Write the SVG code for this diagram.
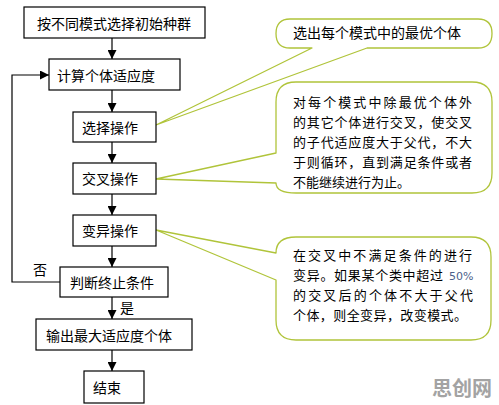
<svg xmlns="http://www.w3.org/2000/svg" width="499" height="405" viewBox="0 0 499 405">
<defs>
<marker id="arr" viewBox="0 0 10 10" refX="10" refY="5" markerWidth="9" markerHeight="9" markerUnits="userSpaceOnUse" orient="auto">
<path d="M0,0 L10,5 L0,10 z" fill="#000"/>
</marker>
</defs>
<style>
.box{fill:#fff;stroke:#000;stroke-width:1.2}
.t{font-family:"Noto Sans CJK SC","Liberation Sans",sans-serif;font-size:14px;fill:#000}
.c{font-family:"Noto Sans CJK SC","Liberation Sans",sans-serif;font-size:13px;fill:#000}
.call{fill:#fff;stroke:#b0c43a;stroke-width:1.3;stroke-linejoin:round}
.ln{fill:none;stroke:#000;stroke-width:1.2}
</style>
<rect width="499" height="405" fill="#fff"/>

<g id="callout1">
<path class="call" d="M290,19 H478 Q492,19 492,33.5 Q492,48 478,48 H367 L156,125 L312,48 H290 Q276,48 276,33.5 Q276,19 290,19 Z"/>
<text class="t" x="293" y="38">选出每个模式中的最优个体</text>
</g>
<g id="callout2">
<path class="call" d="M296,82 H472 Q492,82 492,102 V173 Q492,193 472,193 H296 Q276,193 276,183 L156,179 L276,153 V102 Q276,82 296,82 Z"/>
<text class="c" x="293" y="107" textLength="179" lengthAdjust="spacing">对每个模式中除最优个体外</text>
<text class="c" x="293" y="127" textLength="179" lengthAdjust="spacing">的其它个体进行交叉，使交叉</text>
<text class="c" x="293" y="147" textLength="179" lengthAdjust="spacing">的子代适应度大于父代，不大</text>
<text class="c" x="293" y="167" textLength="179" lengthAdjust="spacing">于则循环，直到满足条件或者</text>
<text class="c" x="293" y="187">不能继续进行为止。</text>
</g>
<g id="callout3">
<path class="call" d="M296,237 H471 Q491,237 491,257 V320 Q491,340 471,340 H296 Q276,340 276,320 V280 L156,230 L276,253 Q276,237 296,237 Z"/>
<text class="c" x="293" y="260" textLength="179" lengthAdjust="spacing">在交叉中不满足条件的进行</text>
<text class="c" x="293" y="280" textLength="150" lengthAdjust="spacing">变异。如果某个类中超过</text>
<text x="449" y="280" font-family="'DejaVu Sans',Verdana,sans-serif" font-size="11" fill="#4d5f8a">50%</text>
<text class="c" x="293" y="300" textLength="180" lengthAdjust="spacing">的交叉后的个体不大于父代</text>
<text class="c" x="293" y="320" textLength="174" lengthAdjust="spacing">个体，则全变异，改变模式。</text>
</g>

<g id="connectors">
<line class="ln" x1="112" y1="38" x2="112" y2="59" marker-end="url(#arr)"/>
<line class="ln" x1="112" y1="90" x2="112" y2="112" marker-end="url(#arr)"/>
<line class="ln" x1="112" y1="142" x2="112" y2="163" marker-end="url(#arr)"/>
<line class="ln" x1="112" y1="194" x2="112" y2="215" marker-end="url(#arr)"/>
<line class="ln" x1="112" y1="246" x2="112" y2="267" marker-end="url(#arr)"/>
<line class="ln" x1="112" y1="297" x2="112" y2="319" marker-end="url(#arr)"/>
<line class="ln" x1="112" y1="350" x2="112" y2="371" marker-end="url(#arr)"/>
<polyline class="ln" points="60,282 12,282 12,75 49,75" marker-end="url(#arr)"/>
<text class="t" x="33" y="275">否</text>
<text class="t" x="120" y="313">是</text>
</g>

<g id="n1"><rect class="box" x="24" y="7" width="181" height="31"/><text class="t" x="37" y="29">按不同模式选择初始种群</text></g>
<g id="n2"><rect class="box" x="49" y="59" width="131" height="31"/><text class="t" x="57" y="81">计算个体适应度</text></g>
<g id="n3"><rect class="box" x="73" y="112" width="83" height="30"/><text class="t" x="82" y="133">选择操作</text></g>
<g id="n4"><rect class="box" x="73" y="163" width="83" height="31"/><text class="t" x="82" y="184">交叉操作</text></g>
<g id="n5"><rect class="box" x="73" y="215" width="83" height="31"/><text class="t" x="82" y="236">变异操作</text></g>
<g id="n6"><rect class="box" x="60" y="267" width="108" height="30"/><text class="t" x="70" y="288">判断终止条件</text></g>
<g id="n7"><rect class="box" x="36" y="319" width="156" height="31"/><text class="t" x="46" y="341">输出最大适应度个体</text></g>
<g id="n8"><rect class="box" x="84" y="371" width="60" height="32"/><text class="t" x="93" y="393">结束</text></g>

<text x="432" y="396" font-family="'Noto Sans CJK SC',sans-serif" font-size="20" font-weight="bold" fill="#a3a3a3">思创网</text>
</svg>
